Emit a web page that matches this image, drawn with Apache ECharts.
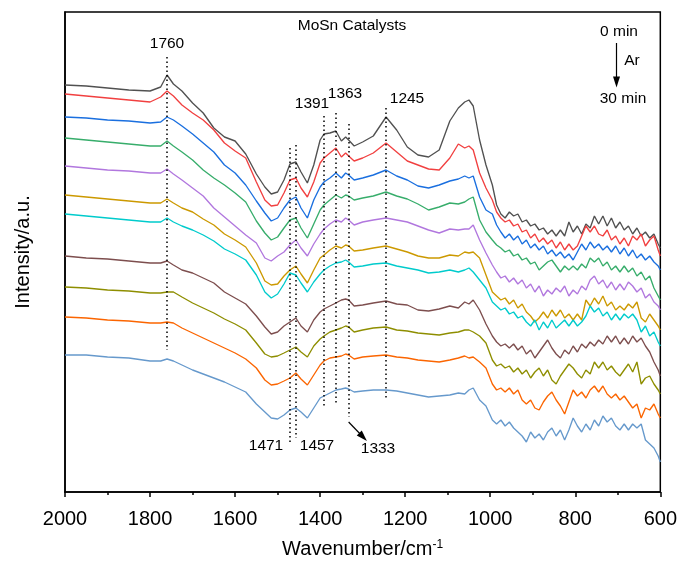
<!DOCTYPE html>
<html>
<head>
<meta charset="utf-8">
<script src="https://cdn.jsdelivr.net/npm/echarts@6/dist/echarts.min.js"></script>
<style>
html,body{margin:0;padding:0;background:#fff;}
#chart{width:680px;height:564px;}
</style>
</head>
<body>
<div id="chart"></div>
<script>
// Wavenumber grid (cm-1)
const wavenumbers = [2000,1950,1900,1850,1800,1775,1760,1745,1725,1700,1675,1650,1625,1600,1575,1550,1530,
1515,1500,1485,1471,1457,1445,1430,1415,1400,1391,1377,1363,1350,1340,1333,1320,1300,1275,1245,1220,1195,1170,1145,1120,1095,1075,1060,1050,1040,1025,1010,
995,985,975,965,955,945,935,925,915,905,895,885,875,865,855,845,835,825,815,805,795,785,775,765,755,745,735,725,715,705,695,685,675,665,655,645,635,625,615,605,600];

// Spectra (stacked, a.u.), 0 min -> 30 min under Ar
const spec0 = [415,414,412,410,409,413,425,416,409,397,387,372,363,359,346,326,313,
306,308,320,336,338,328,317,335,360,366,367,369,359,363,360,354,358,364,383,370,353,345,343,350,379,392,398,400,394,360,335,
315,295,286,282,288,284,286,278,280,274,276,270,272,266,270,264,270,264,278,268,274,266,276,272,284,276,284,274,282,272,278,270,274,266,272,264,268,262,266,256,252];
const spec1 = [406,404,402,400,398,403,409,404,395,387,380,370,357,349,342,318,300,
294,295,307,320,322,312,303,318,337,342,347,352,343,347,344,339,342,347,357,348,339,335,331,330,342,356,352,354,350,327,312,
300,288,282,278,280,274,276,268,270,262,266,258,262,256,260,252,258,250,256,250,254,264,274,268,274,266,264,270,260,264,256,262,254,264,260,266,254,260,264,250,244];
const spec2 = [383,382,380,379,377,378,383,380,374,366,357,348,335,327,315,299,287,
279,282,292,300,303,292,282,300,313,318,322,327,322,327,325,320,322,325,330,324,320,314,312,315,319,321,324,322,324,303,290,
286,275,268,262,266,260,264,256,260,252,256,250,254,246,250,244,248,242,246,240,248,256,250,258,252,256,250,254,248,254,246,252,244,250,242,246,240,244,238,234,230];
const spec3 = [362,360,358,356,354,354,359,354,348,340,330,322,315,307,298,279,267,
260,263,272,280,282,272,262,276,290,295,300,305,302,305,304,300,302,304,308,304,301,296,290,293,297,296,298,301,303,280,268,
260,255,252,248,250,244,246,240,242,236,238,230,234,238,240,234,228,234,230,234,230,236,232,242,238,242,234,238,230,234,228,234,228,232,224,228,220,224,212,204,200];
const spec4 = [334,332,330,329,327,327,331,326,320,312,304,292,283,274,265,257,242,
239,244,248,255,260,252,244,256,266,271,276,280,278,282,280,275,278,280,282,280,278,274,270,267,271,270,271,271,275,260,247,
235,228,222,224,218,222,216,220,212,216,208,214,204,210,206,212,208,214,204,210,206,214,210,220,224,216,220,212,218,210,216,210,218,214,208,212,202,206,198,194,190];
const spec5 = [305,303,301,299,297,297,301,297,292,288,281,275,266,260,253,237,219,
215,216,224,230,234,226,217,230,242,245,250,254,252,255,254,249,250,252,254,251,248,244,242,242,245,244,248,247,248,242,225,
208,204,200,202,196,200,192,196,188,184,178,182,188,182,190,184,190,182,186,180,186,180,200,194,202,196,204,194,198,190,194,190,196,192,198,182,178,186,180,174,170];
const spec6 = [286,284,282,280,278,278,282,278,274,270,265,259,251,246,240,225,208,
202,206,216,227,225,217,208,218,226,230,234,237,238,240,238,233,234,236,237,234,232,230,227,228,230,228,230,232,228,220,212,
198,194,190,192,186,188,182,184,178,174,180,170,178,172,180,172,176,180,174,180,174,178,184,194,188,192,184,188,180,186,180,186,182,186,180,168,174,164,168,158,154];
const spec7 = [244,242,241,239,237,237,239,235,230,227,222,217,208,202,196,184,173,
166,168,174,178,182,174,168,180,188,191,194,197,200,201,200,194,195,197,199,196,195,190,189,191,194,192,198,196,200,190,176,
164,158,154,156,152,156,150,154,146,150,142,148,154,160,152,146,142,150,146,154,148,156,152,158,154,160,156,164,158,164,156,162,156,164,158,162,154,148,138,130,124];
const spec8 = [213,212,210,209,207,207,208,208,203,197,192,187,181,176,170,157,146,
143,144,147,150,153,148,143,154,161,164,168,170,172,174,173,168,170,172,173,170,169,167,166,165,167,168,170,170,168,164,157,
140,134,136,132,134,128,132,126,130,122,128,132,124,130,120,116,124,130,136,132,126,122,130,126,138,132,138,130,134,128,124,130,136,128,138,116,122,124,116,110,106];
const spec9 = [183,182,180,179,177,177,178,177,172,167,162,157,152,147,141,132,120,
115,116,119,122,127,121,115,125,135,139,142,143,144,146,145,141,143,144,145,143,142,140,139,138,140,142,144,142,143,138,132,
116,110,112,108,112,106,110,100,96,100,92,90,98,104,108,100,94,86,98,110,104,108,102,110,114,108,114,106,102,106,100,104,98,92,96,82,92,90,96,86,82];
const spec10 = [145,145,143,142,139,139,141,139,135,130,126,122,118,113,108,96,88,
82,81,85,90,92,88,82,92,102,104,107,110,111,112,111,108,109,110,110,109,107,105,103,104,105,107,106,110,112,100,94,
80,76,80,74,78,72,68,64,58,68,62,66,60,68,72,64,70,60,70,82,74,68,76,70,80,74,84,78,82,74,70,76,70,76,72,76,60,56,52,44,38];

const spectra = [spec0,spec1,spec2,spec3,spec4,spec5,spec6,spec7,spec8,spec9,spec10];
const seriesNames = ['0 min','3 min','6 min','9 min','12 min','15 min','18 min','21 min','24 min','27 min','30 min'];
const colors = ['#515151','#F14040','#1A6FDF','#37AD6B','#B177DE','#CC9900','#00CBCC','#7D4E4E','#8E8E00','#FB6501','#6699CC'];

// x-axis ticks
const xTicks = [2000,1800,1600,1400,1200,1000,800,600];

// Peak markers: wavenumber, dotted line extent (a.u.)
const peaks = [1760,1471,1457,1391,1363,1333,1245];
const peakTop = [443,352,355,384,387,376,392];
const peakBottom = [150,57,62,92,95,83,100];

const FONT = '"Liberation Sans", Arial, Helvetica, sans-serif';

const chart = echarts.init(document.getElementById('chart'), null, {renderer:'canvas'});

const series = spectra.map((arr, i) => ({
  name: seriesNames[i],
  type: 'line',
  data: wavenumbers.map((w, j) => [w, arr[j]]),
  symbol: 'none',
  smooth: false,
  lineStyle: {color: colors[i], width: 1.35},
  itemStyle: {color: colors[i]},
  z: 3,
  silent: true,
  animation: false
}));

const dotted = {type: [1.5, 3], width: 1.5, color: '#000'};
series.push({
  type: 'line',
  data: [],
  silent: true,
  animation: false,
  markLine: {
    silent: true,
    animation: false,
    symbol: ['none','none'],
    label: {show: false},
    lineStyle: dotted,
    emphasis: {disabled: true},
    data: peaks.map((p, i) => [{coord: [p, peakTop[i]]}, {coord: [p, peakBottom[i]]}])
  }
});
// arrows
series.push({
  type: 'line',
  data: [],
  silent: true,
  animation: false,
  markLine: {
    silent: true,
    animation: false,
    symbol: ['none','triangle'],
    symbolSize: [7, 11],
    label: {show: false},
    lineStyle: {type: 'solid', width: 1.2, color: '#000'},
    emphasis: {disabled: true},
    data: [
      [{coord: [1333, 78]}, {coord: [1299, 63]}],
      [{coord: [703, 457]}, {coord: [703, 418]}]
    ]
  }
});

const txt = (s, x, y, size) => ({
  type: 'text', x: x, y: y, silent: true,
  style: {text: s, x: 0, y: 0, fill: '#000', font: `${size}px ${FONT}`, textAlign: 'center', textVerticalAlign: 'middle'}
});

const option = {
  backgroundColor: '#fff',
  animation: false,
  grid: {left: 65, right: 19, top: 12, bottom: 72, show: true, borderColor: '#000', borderWidth: 1.5, backgroundColor: 'transparent'},
  xAxis: {
    type: 'value', min: 600, max: 2000, interval: 200, inverse: true,
    name: 'Wavenumber/cm{sup|-1}', nameLocation: 'middle', nameGap: 47,
    nameTextStyle: {fontSize: 20, color: '#000', fontFamily: FONT,
      rich: {sup: {fontSize: 12, verticalAlign: 'top', padding: [0,0,8,0], color:'#000', fontFamily: FONT}}},
    axisLine: {show: true, onZero: false, lineStyle: {color: '#000', width: 1.5}},
    axisTick: {show: true, inside: false, length: 5, lineStyle: {color: '#000', width: 1.5}},
    minorTick: {show: true, splitNumber: 2, length: 3, lineStyle: {color: '#000', width: 1.5}},
    splitLine: {show: false},
    axisLabel: {fontSize: 20, color: '#000', fontFamily: FONT, margin: 17, showMinLabel: true, showMaxLabel: true,
      formatter: v => xTicks.includes(v) ? String(v) : ''}
  },
  yAxis: {
    type: 'value', min: 8, max: 488,
    name: 'Intensity/a.u.', nameLocation: 'middle', nameGap: 32,
    nameTextStyle: {fontSize: 20, color: '#000', fontFamily: FONT},
    axisLine: {show: true, lineStyle: {color: '#000', width: 1.5}},
    axisTick: {show: false}, axisLabel: {show: false}, splitLine: {show: false}
  },
  graphic: [
    txt('MoSn Catalysts', 352, 26, 15.5),
    txt('1760', 167, 44, 15.5),
    txt('1391', 312, 104, 15.5),
    txt('1363', 345, 94, 15.5),
    txt('1245', 407, 99, 15.5),
    txt('1471', 266, 446, 15.5),
    txt('1457', 317, 446, 15.5),
    txt('1333', 378, 449, 15.5),
    txt('0 min', 619, 32, 15.5),
    txt('Ar', 632, 61, 15.5),
    txt('30 min', 623, 99, 15.5)
  ],
  series: series
};
chart.setOption(option);
</script>
</body>
</html>
